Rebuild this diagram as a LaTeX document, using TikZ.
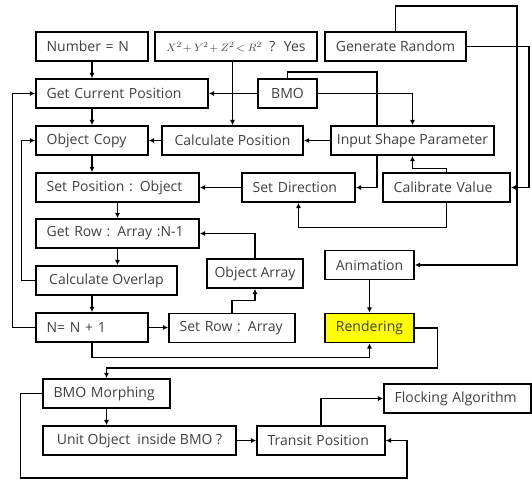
\documentclass[tikz,border=0pt]{standalone}
\usepackage{fontspec}
\setmainfont{Open Sans}
\usepackage{xcolor}
\usepackage{tikz}
\usetikzlibrary{arrows.meta,positioning}
\definecolor{hilite}{RGB}{255,255,0}
\definecolor{txtgray}{RGB}{64,64,64}

\begin{document}
\begin{tikzpicture}[
  x=0.75pt, y=-0.75pt,
  font=\fontsize{10.5}{12}\selectfont,
  box/.style={draw, line width=1.3pt, text=txtgray, inner xsep=8pt,
              inner ysep=2pt, minimum height=21.75pt, align=left},
  cbox/.style={draw, line width=1.3pt, text=txtgray, inner sep=2pt,
               minimum height=21.75pt, align=center},
  hibox/.style={cbox, fill=hilite},
  arr/.style={-{Latex[length=4pt,width=4pt]}, line width=0.9pt},
  ln/.style={line width=0.9pt}
]
\useasboundingbox (0,0) rectangle (532,480);
%--- Row 1: inputs ----------------------------------------------------------
\node[box, text width=68pt]      (num)     at (92,46.5)    {Number = N};
\node[cbox, minimum width=121.5pt] (cond)  at (236,46.5)
  {{\footnotesize$X^2\!+Y^2\!+Z^2\!<R^2$} \ ? \ Yes};
\node[cbox, minimum width=105.75pt] (genrand) at (395.5,46.5) {Generate Random};
%--- Row 2 -----------------------------------------------------------------
\node[box, text width=113pt]     (getcur)  at (122,93.5)   {Get Current Position};
\node[cbox, minimum width=44.25pt] (bmo)   at (287.5,93.5) {BMO};
%--- Row 3 -----------------------------------------------------------------
\node[box, text width=68pt]      (objcopy) at (92,140.5)   {Object Copy};
\node[cbox, minimum width=105.75pt] (calcpos) at (232.5,140.5) {Calculate Position};
\node[cbox, minimum width=122.25pt] (inshape) at (412.5,140.5) {Input Shape Parameter};
%--- Row 4 -----------------------------------------------------------------
\node[box, text width=106.25pt]  (setpos)  at (117.5,187.5) {Set Position : Object};
\node[box, text width=68.75pt]   (setdir)  at (298.5,187.5) {Set Direction};
\node[box, text width=79.25pt]   (calib)   at (446.5,187.5) {Calibrate Value};
%--- Rows 5-7: array loop --------------------------------------------------
\node[box, text width=106.25pt]  (getrow)  at (117.5,233.5) {Get Row : Array :N-1};
\node[cbox, minimum width=72pt]  (objarr)  at (255,273.5)   {Object Array};
\node[cbox, minimum width=105.75pt] (overlap) at (106.5,280.5) {Calculate Overlap};
\node[box, text width=68pt]      (incn)    at (92,327.5)    {N= N + 1};
\node[box, text width=78.5pt]    (setrow)  at (232,328)     {Set Row : Array};
\node[cbox, minimum width=66.75pt] (anim)  at (369.5,265)   {Animation};
\node[hibox, minimum width=66.75pt] (render) at (369.5,328) {Rendering};
%--- Rows 8-9: morphing ----------------------------------------------------
\node[box, text width=79.25pt]   (morph)   at (106.5,393.5) {BMO Morphing};
\node[cbox, minimum width=144.75pt] (unit) at (139.5,440.5) {Unit Object \ inside BMO ?};
\node[box, text width=80pt]      (transit) at (321,440.5)   {Transit Position};
\node[box, text width=94.25pt]   (flock)   at (457.5,398.5) {Flocking Algorithm};
%--- Helper coordinates ----------------------------------------------------
\coordinate (bmotop) at (377,72);
\coordinate (rtop)   at (517,6);
\coordinate (redge)  at (529,46.5);
\coordinate (lowr)   at (407,478);
%--- Main column -----------------------------------------------------------
\draw[arr] (num.south) -- (num.south |- getcur.north);
\draw[arr] (objcopy.north |- getcur.south) -- (objcopy.north);
\draw[arr] (objcopy.south) -- (objcopy.south |- setpos.north);
\draw[arr] (setpos.south) -- (getrow.north);
\draw[arr] (getrow.south) -- (getrow.south |- overlap.north);
\draw[arr] (incn.north |- overlap.south) -- (incn.north);
\draw[arr] (incn.east) -- (incn.east -| setrow.west);
%--- Condition, BMO and shape parameter ------------------------------------
\draw[arr] (calcpos.north |- cond.south) -- (calcpos.north);
\draw[arr] (bmo.west) -- (getcur.east);
\draw[arr] (bmo.east) -| (inshape.north);
\draw[ln]  (bmo.north) |- (bmotop) -- (bmotop |- inshape.north);
\draw[arr] (inshape.west) -- (calcpos.east);
\draw[arr] (calcpos.west) -- (objcopy.east);
\draw[arr] (setdir.west) -- (setpos.east);
\draw[arr] (inshape.south -| bmotop) |- (setdir.east);
\draw[arr] (calib.north) -- ++(0,-4) -| (inshape.south);
\draw[arr] (calib.south) -- ++(0,25) -| (setdir.south);
%--- Right frame from Generate Random --------------------------------------
\draw[arr] (genrand.north) |- (rtop) |- (anim.east);
\draw[arr] (genrand.east) -- (redge) |- (calib.east);
%--- Object array loop -----------------------------------------------------
\draw[arr] (setrow.north) -- ++(0,-12) -| (objarr.south);
\draw[arr] (objarr.north) |- (getrow.east);
%--- Left feedback ---------------------------------------------------------
\draw[arr] (overlap.west) -- ++(-14,0) |- (objcopy.west);
\draw[arr] (incn.west) -- ++(-23,0) |- (getcur.west);
%--- Rendering and morphing ------------------------------------------------
\draw[arr] (anim.south) -- (render.north);
\draw[arr] (incn.south) -- ++(0,15) -| (render.south);
\draw[arr] (render.east) -| ++(23,40) -| (morph.north);
\draw[arr] (morph.south) -- (morph.south |- unit.north);
\draw[arr] (unit.east) -- (transit.west);
\draw[arr] (morph.west) -- ++(-22,0) |- (lowr) |- (transit.east);
\draw[arr] (transit.north) |- (flock.west);
\end{tikzpicture}
\end{document}
